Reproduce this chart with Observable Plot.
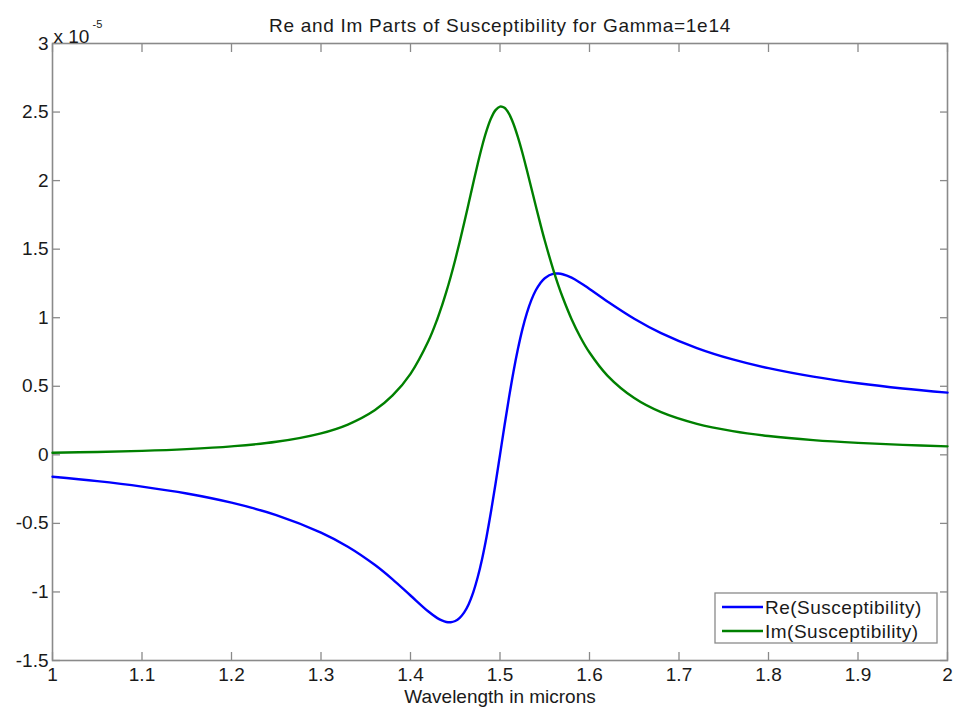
<!DOCTYPE html>
<html><head><meta charset="utf-8">
<script src="https://cdn.jsdelivr.net/npm/d3@7"></script>
<script src="https://cdn.jsdelivr.net/npm/@observablehq/plot@0.6"></script>
<style>body{margin:0;background:#fff}#chart{width:959px;height:711px}</style>
</head><body><div id="chart"></div>
<script>
// Wavelength (microns) and susceptibility values (units of 1e-5)
const wavelength = [1.00,1.05,1.10,1.15,1.20,1.25,1.30,1.33,1.36,1.38,1.40,1.42,1.43,1.435,1.44,1.445,1.45,1.455,1.46,1.465,1.47,1.475,1.48,1.485,1.49,1.495,1.50,1.505,1.51,1.515,1.52,1.525,1.53,1.535,1.54,1.545,1.55,1.56,1.565,1.57,1.58,1.59,1.60,1.62,1.65,1.68,1.72,1.76,1.80,1.85,1.90,1.95,2.00];
const reChi = [-0.160,-0.192,-0.232,-0.282,-0.349,-0.439,-0.567,-0.670,-0.802,-0.908,-1.026,-1.143,-1.191,-1.208,-1.219,-1.221,-1.212,-1.189,-1.149,-1.089,-1.005,-0.895,-0.759,-0.597,-0.412,-0.211,0.000,0.212,0.415,0.604,0.771,0.915,1.033,1.128,1.200,1.252,1.288,1.321,1.322,1.317,1.292,1.254,1.210,1.119,0.993,0.888,0.779,0.696,0.632,0.570,0.522,0.484,0.454];
const imChi = [0.015,0.021,0.029,0.042,0.062,0.095,0.157,0.221,0.325,0.433,0.591,0.830,0.991,1.085,1.188,1.301,1.423,1.554,1.692,1.835,1.979,2.120,2.251,2.364,2.454,2.514,2.540,2.531,2.488,2.415,2.317,2.203,2.077,1.946,1.815,1.686,1.563,1.340,1.240,1.149,0.989,0.856,0.746,0.578,0.414,0.311,0.226,0.173,0.137,0.107,0.087,0.073,0.062];
const xTicks = [1,1.1,1.2,1.3,1.4,1.5,1.6,1.7,1.8,1.9,2];
const yTicks = [-1.5,-1,-0.5,0,0.5,1,1.5,2,2.5,3];
const seriesNames = ["Re(Susceptibility)","Im(Susceptibility)"];
const seriesColors = ["#0000ff","#008000"];
const titleText = "Re and Im Parts of Susceptibility for Gamma=1e14";
const xLabel = "Wavelength in microns";
const exponentBase = "x 10";
const exponentPower = "-5";

const rows = wavelength.flatMap((w, i) => [
  {w, v: reChi[i], s: seriesNames[0]},
  {w, v: imChi[i], s: seriesNames[1]}
]);

const axisGray = "#8a8a8a";
const fmt = d => String(d);
const noLabel = () => "";
const font = "'Liberation Sans', Arial, Helvetica, sans-serif";

const plot = Plot.plot({
  width: 959, height: 711,
  marginLeft: 52, marginRight: 12, marginTop: 43, marginBottom: 51,
  style: {fontFamily: font, fontSize: "19px", color: "#1a1a1a", background: "#fff", overflow: "visible"},
  x: {domain: [1, 2]},
  y: {domain: [-1.5, 3]},
  color: {domain: seriesNames, range: seriesColors},
  marks: [
    Plot.axisX({anchor: "bottom", ticks: xTicks, tickFormat: fmt, tickSize: -8, tickPadding: 15, stroke: axisGray, strokeWidth: 1.3,
      label: xLabel, labelAnchor: "center", labelArrow: "none", labelOffset: 42, fontSize: 19}),
    Plot.axisX({anchor: "top", ticks: xTicks, tickFormat: noLabel, tickSize: -8, stroke: axisGray, strokeWidth: 1.3, label: null}),
    Plot.axisY({anchor: "left", ticks: yTicks, tickFormat: fmt, tickSize: -8, tickPadding: 12, stroke: axisGray, strokeWidth: 1.3, label: null, fontSize: 19}),
    Plot.axisY({anchor: "right", ticks: yTicks, tickFormat: noLabel, tickSize: -8, stroke: axisGray, strokeWidth: 1.3, label: null}),
    Plot.frame({stroke: axisGray, strokeWidth: 1.6}),
    Plot.line(rows, {x: "w", y: "v", z: "s", stroke: "s", strokeWidth: 2.4, curve: "catmull-rom"}),
    Plot.text([titleText], {frameAnchor: "top", dy: -25, fontSize: 19, fill: "#1a1a1a"}),
    Plot.text([exponentBase], {frameAnchor: "top-left", textAnchor: "start", dy: -14, dx: 1, fontSize: 19, fill: "#1a1a1a"}),
    Plot.text([exponentPower], {frameAnchor: "top-left", textAnchor: "start", dy: -23, dx: 40, fontSize: 11, fill: "#1a1a1a"})
  ]
});
document.getElementById("chart").appendChild(plot);

// Title letter spacing to match the original's wide MATLAB text
d3.select(plot).selectAll("text").filter(function() { return this.textContent === titleText; })
  .style("letter-spacing", "0.7px");

// Legend (MATLAB style box, lower right inside axes)
const sx = plot.scale("x"), sy = plot.scale("y");
const fr = sx.range[1], fb = sy.range[0];
const svg = d3.select(plot);
const lw = 222, lh = 50;
const lx = fr - 10 - lw, ly = fb - 17 - lh;
const g = svg.append("g").attr("font-family", font).attr("font-size", 19).attr("text-anchor", "start");
g.append("rect").attr("x", lx).attr("y", ly).attr("width", lw).attr("height", lh)
  .attr("fill", "#fff").attr("stroke", axisGray).attr("stroke-width", 1.3);
seriesNames.forEach((name, i) => {
  const yy = ly + 14 + i * 24;
  g.append("line").attr("x1", lx + 7).attr("x2", lx + 48).attr("y1", yy).attr("y2", yy)
    .attr("stroke", seriesColors[i]).attr("stroke-width", 2.6);
  g.append("text").attr("x", lx + 50).attr("y", yy).attr("dy", "0.35em").attr("fill", "#1a1a1a")
    .style("letter-spacing", "0.5px").text(name);
});
</script>
</body></html>
